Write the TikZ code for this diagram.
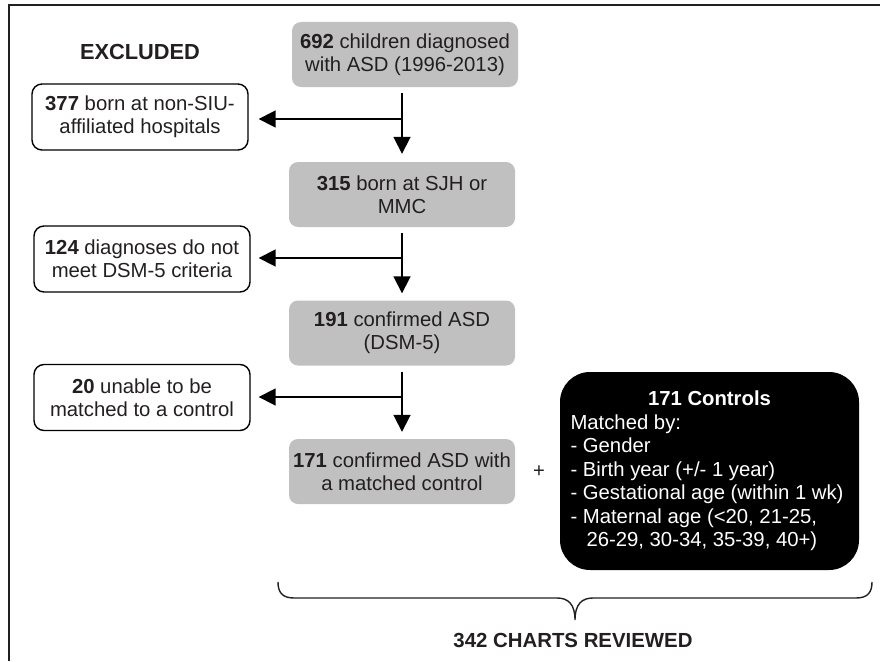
\documentclass[tikz,border=0pt]{standalone}
\usepackage{fontspec}
\setmainfont{Liberation Sans}
\usetikzlibrary{arrows.meta}
\definecolor{boxgray}{RGB}{192,192,192}
\definecolor{txt}{RGB}{35,31,32}
\tikzset{
  graybox/.style={fill=boxgray, rounded corners=9pt, minimum width=226pt, minimum height=65pt,
    align=center, inner sep=0pt, text=txt, font=\fontsize{20.3}{23}\selectfont},
  exbox/.style={draw=black, line width=1.4pt, fill=white, rounded corners=10pt, minimum width=216pt,
    minimum height=66pt, align=center, inner sep=0pt, text=txt, font=\fontsize{20.3}{23}\selectfont},
  ctrlbox/.style={fill=black, rounded corners=30pt, minimum width=299pt, minimum height=198pt,
    inner sep=0pt, text=white, font=\fontsize{20.3}{23.5}\selectfont},
  arr/.style={line width=1.8pt, -{Triangle[length=17pt,width=17pt]}},
  heading/.style={text=txt, font=\bfseries\fontsize{21.8}{25}\selectfont, inner sep=0pt}
}
\begin{document}
\begin{tikzpicture}[x=1pt,y=-1pt]
\useasboundingbox (0,0) rectangle (880,661);
\draw[line width=1.2pt, color=txt] (9,661) -- (9,5) -- (880,5);

\node[heading] (excl) at (140,52) {EXCLUDED};

\node[graybox] (b1) at (405,54.5) {\textbf{692} children diagnosed\\with ASD (1996-2013)};
\node[graybox] (b2) at (402,194.5) {\textbf{315} born at SJH or\\MMC};
\node[graybox] (b3) at (402,333) {\textbf{191} confirmed ASD\\(DSM-5)};
\node[graybox] (b4) at (402,471.5) {\textbf{171} confirmed ASD with\\a matched control};

\node[exbox] (e1) at (140,117) {\textbf{377} born at non-SIU-\\affiliated hospitals};
\node[exbox] (e2) at (142,259) {\textbf{124} diagnoses do not\\meet DSM-5 criteria};
\node[exbox] (e3) at (142,397.5) {\textbf{20} unable to be\\matched to a control};

\coordinate (j1) at (402,119);
\coordinate (j2) at (402,258);
\coordinate (j3) at (402,397);

\draw[arr, shorten <=6pt, shorten >=8pt] (b1.south -| j1) -- (b2.north -| j1);
\draw[arr, shorten <=6pt, shorten >=7pt] (b2.south -| j2) -- (b3.north -| j2);
\draw[arr, shorten <=6pt, shorten >=7pt] (b3.south -| j3) -- (b4.north -| j3);
\draw[arr, shorten >=10pt] (j1) -- (j1 -| e1.east);
\draw[arr, shorten >=8pt] (j2) -- (j2 -| e2.east);
\draw[arr, shorten >=8pt] (j3) -- (j3 -| e3.east);

\node[text=txt, font=\fontsize{20.3}{23}\selectfont, inner sep=0pt] (plus) at (539,472) {+};

\node[ctrlbox] (ctrl) at (709.5,471) {\parbox{278pt}{\centering\textbf{171 Controls}\par\raggedright
Matched by:\\
- Gender\\
- Birth year (+/- 1 year)\\
- Gestational age (within 1 wk)\\
- Maternal age (<20, 21-25,\\
\hspace*{16pt}26-29, 30-34, 35-39, 40+)}};

\coordinate (brL) at (278,582);
\coordinate (brR) at (872,582);
\coordinate (brT) at (575,620);
\draw[line width=1.4pt, color=txt] (brL) .. controls (278,592) and (282,598) .. (294,598)
  -- (557,598) .. controls (568,598) and (575,604) .. (brT)
  (575,620) .. controls (575,604) and (582,598) .. (593,598)
  -- (856,598) .. controls (868,598) and (872,592) .. (brR);

\node[heading, font=\bfseries\fontsize{20.4}{24}\selectfont] (total) at (573,640) {342 CHARTS REVIEWED};
\end{tikzpicture}
\end{document}
